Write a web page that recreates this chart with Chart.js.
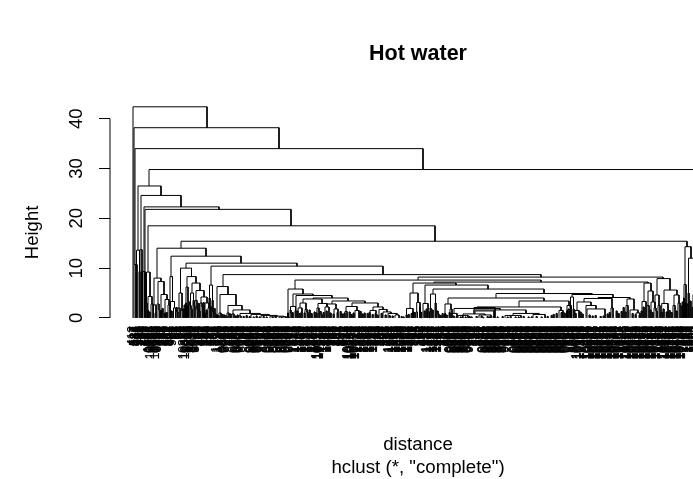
<!DOCTYPE html>
<html>
<head>
<meta charset="utf-8">
<title>Hot water</title>
<script src="https://cdn.jsdelivr.net/npm/chart.js@4"></script>
<style>
  html, body { margin: 0; background: #fff; overflow: hidden; }
  canvas { display: block; }
</style>
</head>
<body>
<canvas id="tree" width="726" height="479"></canvas>
<script>
const yTicks = [0, 10, 20, 30, 40];
const chartTitle = 'Hot water';
const yTitle = 'Height';
const xTitle = ['distance', 'hclust (*, "complete")'];

// merges: [left leaf position, right leaf position, height]
const spineMerges = [
  [0,74,42.4],[1,146,38.2],[2,290,34],[16,564,29.8],[5,28,26.5],[8,48,24.6],[11,86,22.3],[12,158,21.8],
  [15,302,18.5],[48,554,15.4],[24,73,14],[38,108,12.4],[53,164,11],[78,250,10.4],[90,408,8.7],
  [285,530,8.2],[162,408,7.6],[301,515,7.2],[280,323,7],[292,355,6.6],[300,411,5.8],[363,459,4.9],[315,411,4]
];
const leftCluster = [
  [1,3,10.7],[3.5,6.5,13.6],[3,4,10.7],[6,7,9.3],[7,9,13.7],[8.5,9.5,9.4],[10,12,9.3],[11.5,12.5,9.2],
  [13.5,17,9.2],[15,19,4.3],[14.5,15.5,1.5],[18,20,2.8],[13,14,3],[21,28,8],[20.5,23,2.6],[25,31,7.3],
  [24,26,2.8],[28,34,4.7],[27.5,28.5,1.5],[32,36,3.7],[31.5,32.5,1],[35,37,2.6],[37,39.5,8.3],[37.5,41.5,3.3],
  [40.5,42.5,2],[47.5,58.5,10],[46,49,5],[45,47,2],[48,50,1.5],[54,63,8.3],[53,55,6.2],[52.5,53.5,3],
  [54.5,55.5,2.5],[59,67,7],[57.5,60.5,5],[57,58,2.5],[60,61,3.5],[63,71,5.5],[62,64,3.5],[68,74,4.2],
  [67,69,3],[72,76,3],[71.5,72.5,1],[75,77,2],[76.5,79.5,6.6],[76,77,4],[79,80,3.5]
];
const flatLeft = [
  [84,95,6.3],[83.5,84.5,0.6],[87,103,4.7],[86,88,1],[95,109,2.5],[94,96,1],[100,117,1.6],[99,101,0.8],
  [107,127,0.9],[106,108,0.4],[118,136,0.7],[128,144,0.5],[137,151,0.35],[146,156,0.2]
];
const midCluster = [
  [155,170,5.8],[154.5,155.5,1],[160,180,4.8],[157.5,162.5,2.3],[157,158,1.6],[162,163,1.5],[163,199,4.5],
  [180,215,4],[170,189,3.8],[167,173,3],[185,194,2.9],[165,169,2],[172,174,1.7],[184,186,2],[192,196,2.2],
  [199,232,3.4],[194,203,2.8],[201,205,1.8],[219,245,3],[213,224,2.3],[212,214,1.3],[222,226,1.5],
  [240,250,2.2],[237,243,1.5],[246,254,1.7],[250,258,1.2],[255,264,0.9],[262,266,0.6],
  [277,285,5],[273.5,280,1.9],[283.7,287,3.1],[273,274,0.6],[279.5,280.5,1.2],[283,284.4,1.2],[286.5,287.5,2.2],
  [290,295,2.9],[297.5,302.5,4.8],[297,298,2],[302,303,3],[312,318,2.8],[311.5,312.5,0.9],[317,319,1.8]
];
const flatMiddle = [
  [386,436,3.4],[344,428,2.2],[434,438,2.5],[433.5,434.5,1.5],[437.5,438.5,1.4],[426,430,1.5],[321,367,1.9],
  [318,324,0.9],[341,393,1.6],[330,352,0.8],[380,406,0.9],[325,335,0.5],[346,358,0.6],[372,388,0.5],[400,412,0.7],
  [341,362,2.1],[342,361,1.4]
];
const rightCluster = [
  [439,480,4.7],[437.5,440.5,4.2],[437,438,2.5],[440,441,1.8],[465,497,4.1],[451,479,3.9],[444,458,3.2],
  [453,463,2.5],[454,472,1.8],[442,446,1.5],[478,480,2],[494,501,3.8],[493,495,2.5],[497,505,1.6],[503,507,1],
  [511,518,7],[509,513,3.3],[515,520,5.4],[514,516,2.5],[518,522,3.2],[524,537,7.9],[522,526,4.6],
  [531,544,5.6],[528.7,535,2.9],[541,546,4.6],[540,542,2.5],[545,547,3],[521,523,2],[525,527,2.5],
  [552,558,14.3],[551,553,6.7],[555.5,560.5,12],[555,556,5],[560,561,4.7],[550.5,551.5,4],[552.5,553.5,3]
];
const lowMerges = [
  [16,17,1.2],[22,23,1],[26,27,1.6],[29,30,1.9],[33,34,1.1],[38,39,1.4],[43,44,2.1],[44,45,1.2],[50,51,1.8],[51,52,2.6],
  [56,57,3.2],[58,59,1.8],[61,62,2.4],[64,65,1.7],[65,66,2.9],[66,67,1.4],[69,70,2.2],[70,71,3.1],[73,74,1.6],[77,78,2.3],
  [80,81,1.2],[81,82,1.9],[82,83,0.8],[85,86,0.5],[89,90,0.7],[91,92,0.6],[93,94,0.4],[97,98,0.8],[102,103,0.4],[104,105,0.6],
  [110,111,0.3],[113,114,0.5],[116,117,0.3],[120,121,0.2],[123,124,0.4],[126,127,0.2],[130,131,0.3],[133,134,0.2],[139,140,0.2],[142,143,0.3],
  [148,149,0.1],[152,153,0.2],[158,159,0.9],[159,160,1.1],[164,165,1.4],[166,167,0.9],[168,169,1.2],[171,172,1],[174,175,1.1],[176,177,1.6],
  [178,179,0.9],[181,182,1.2],[183,184,1],[187,188,1.3],[188,189,0.7],[190,191,1.1],[193,194,1.4],[197,198,1],[200,201,0.8],[204,205,1.1],
  [207,208,1.3],[209,210,0.8],[211,212,1],[216,217,1.2],[218,219,0.7],[220,221,1],[227,228,1.3],[229,230,0.8],[231,232,1],[234,235,0.9],
  [236,237,1.1],[239,240,0.7],[242,243,0.9],[244,245,0.6],[248,249,0.9],[252,253,0.6],[256,257,0.5],[259,260,0.4],[268,269,0.3],[270,271,0.2],
  [275,276,0.7],[278,279,0.9],[281,282,1.1],[288,289,1.2],[291,292,1.4],[293,294,1.8],[296,297,1.3],[299,300,1.6],[304,305,1.4],[305,306,0.8],
  [307,308,0.5],[309,310,0.9],[313,314,0.6],[316,317,1.1],[320,321,0.4],[323,324,0.3],[327,328,0.2],[329,330,0.3],[332,333,0.2],[336,337,0.3],
  [338,339,0.2],[343,344,0.3],[348,349,0.4],[350,351,0.2],[354,355,0.3],[356,357,0.2],[360,361,0.3],[364,365,0.2],[369,370,0.3],[374,375,0.2],
  [377,378,0.3],[382,383,0.2],[385,386,0.2],[390,391,0.3],[395,396,0.2],[398,399,0.2],[403,404,0.3],[408,409,0.2],[414,415,0.3],[418,419,0.5],
  [420,421,0.7],[423,424,0.9],[428,429,1.1],[431,432,1],[435,436,1.8],[442,443,0.9],[447,448,1.2],[449,450,0.8],[456,457,0.6],[459,460,0.4],
  [462,463,0.5],[467,468,0.3],[470,471,0.4],[474,475,0.8],[476,477,1.1],[483,484,1.4],[485,486,0.9],[488,489,1.3],[490,491,2.1],[492,493,1.2],
  [499,500,0.9],[502,503,0.7],[506,507,0.6],[508,509,1.4],[510,511,2.2],[512,513,1.9],[517,518,1.6],[519,520,1.1],[523,524,1.4],[528,529,1.2],
  [530,531,1.8],[533,534,1.2],[536,537,1.5],[538,539,1.1],[543,544,1.4],[548,549,2.4],[549,550,3.2],[554,555,2.8],[557,558,3.4],[559,560,2.1]
];

// leaf labels, left to right, one small list per stretch of the axis
const leavesA = ['412','587','233','641','118','905','376','264','731','429','850','193','567'];
const leavesB = ['1082','0936','10683','8095','0638','1096','10604','0982','6310'];
const leavesC = ['345','178','622','793','251','406','889','517','364','302','684','945'];
const leavesD = ['42','87','35','61','29','74','56','93','18'];
const leavesE = ['10382','10846','8063','9018','6208','1840','8096','9630','1028','6802','8046'];
const leavesF = ['714','238','965','402','681','157','329','873','546','290','735','618','142','487','956'];
const leavesG = ['263','1374','158','1926','340','1715',
  '0863','9038','0608','8096',
  '913','472','706','358','624','195',
  '0602','9806','0308','8036','9608','0093','8098',
  '749','236','581','403','628','917',
  '0063','9036','8096','0083','9038','0609','8803','9086','0306','9608',
  '271','534','892','146',
  '0038','8903','096','9360','0069','628','8809','0086','306','9093','0608','036','8803','0917','8096','038','0806','9063','096','0308','8602',
  '462','318','775'];
const leavesH = ['1873','1642','1905','1318','1746','1289','1537','1064','1812','1493','1726','1358','1671','1924','1285','1749','1516','1083','10672','10395'];
const leavesI = ['10718','10642','1375','1896','1438','1705','1268','1891','1534'];
const leavesJ = ['652','387','258','749','703','136','892','467','604','285','931','549','078','612','483'];
const leavesK = ['10382','10746','10518','10293','10867','10645','10378','10926','1041','1583','1274','1719','1063',
  '1492','1835','1028','1367','1874','1596','1463','1813','1729','1345'];
const leavesL = ['371','926','825','243','590','768','364','421','907','586','243','174'];
const leavesM = ['1692','1813','1567','1395','1038','1762','1485','1219','1856','1574','1320','1647','1796','1086','1962','1537','1248','1603'];
const leavesN = ['438','195','67','381','904','25','743','519','82','163',
  '396','648','275','931',
  '1584','1317','1769','1428','1156','1892','1527','1341','1638','1214',
  '907','463','758','816','329','175','602','483','947'];
const leavesO = ['0086','9038','0093','8608','0803','9096','0063','8308','0906','9603','0036','8098','0806','9063','0908','8360','0603','9096',
  '268','531','794','386','612','278','845','391','652','247',
  '0038','8306','0608','9803','0093','8086','0308','9603','0806','8093','0036','9603','0069','8098','0038','9906','0803','8360','0512','9276',
  '903','618','254','739','165','842'];
const leavesP = ['0096','0063','0038','0306','0608','0803','0093','0086','0308','0603','0806','0093','0036','0603','0069','0098','0038','0906','0803','0360',
  '0063','0908','0603','0096','0083','0038','0609','0803','0086','0306','0093','0608','0036','0803','0806','0063','0096','0038','0906','0083',
  '0360','0603','0098','0806','0063','0908',
  '412','576','839','203',
  '8096','9063','6038','10963','10682','10186','10308'];
const leavesQ = ['725','498','361',
  '10862','10493','10276','10859','10635','10482','10917','10738','10264','10895','10562','10537','10748','10326','10681','10974','10215',
  '10869','10543','10372','10698','10425','10837','10916','10584','10273','10649','10731','10468','10852','1397','1624','1783',
  '10546','10219','10968','10375','10842','10637','10491','10726','10358','10973','10215','10386','10684','10432','10857','10296','10743','10518','10629',
  '10384','10975','10263','10847','10516','10702','10148','10593','10326',
  '1548','1273','1906','1684',
  '10372','10859','10243','10617','10794','10538','10162','10927','10385','10746','10291','10873','10456','10618','10934','10275','10589',
  '1746','1382','1905','1627','1843','1269','1574','1938','1086','1452','1793'];
const leafLabels = [...leavesA, ...leavesB, ...leavesC, ...leavesD, ...leavesE, ...leavesF, ...leavesG, ...leavesH, ...leavesI,
  ...leavesJ, ...leavesK, ...leavesL, ...leavesM, ...leavesN, ...leavesO, ...leavesP, ...leavesQ];
const LEAF_SPACING = 1.19;

const allMerges = [...spineMerges, ...leftCluster, ...flatLeft, ...midCluster, ...flatMiddle, ...rightCluster, ...lowMerges];

// a leg drops onto the tallest lower merge centred under it, otherwise to the baseline
function legFloor(x, height) {
  let floor = 0;
  allMerges.forEach(([l, r, h]) => {
    if (h < height && h > floor && l <= x && x <= r && Math.abs((l + r) / 2 - x) <= 1.5) floor = h;
  });
  return floor;
}

const treePoints = [];
allMerges.forEach(([l, r, h]) => {
  treePoints.push({ x: l, y: legFloor(l, h) }, { x: l, y: h }, { x: r, y: h }, { x: r, y: legFloor(r, h) }, { x: null, y: null });
});

const X_MIN = -23;
const X_MAX = 593;

new Chart(document.getElementById('tree'), {
  type: 'scatter',
  data: {
    datasets: [
      { data: treePoints, showLine: true, borderColor: '#000', borderWidth: 1, pointRadius: 0, clip: false, spanGaps: false },
      { data: [{ x: X_MIN, y: yTicks[0] }, { x: X_MIN, y: yTicks[yTicks.length - 1] }], showLine: true, borderColor: '#000', borderWidth: 1, pointRadius: 0, clip: false }
    ]
  },
  options: {
    responsive: false,
    animation: false,
    devicePixelRatio: 1,
    layout: { padding: 0 },
    plugins: {
      legend: { display: false },
      tooltip: { enabled: false },
      title: {
        display: true,
        text: chartTitle,
        fullSize: false,
        color: '#000',
        font: { family: 'Liberation Sans', size: 21.5, weight: 'bold' },
        padding: { top: 41.5, bottom: 39.5 }
      }
    },
    scales: {
      x: {
        type: 'linear',
        min: X_MIN,
        max: X_MAX,
        border: { display: false },
        grid: { display: false },
        afterBuildTicks: (scale) => { scale.ticks = leafLabels.map((_, i) => ({ value: i * LEAF_SPACING })); },
        afterFit: (scale) => { scale.height = 121; scale.paddingLeft = 0; scale.paddingRight = 0; },
        ticks: {
          autoSkip: false,
          minRotation: 90,
          maxRotation: 90,
          mirror: true,   // mirror turns off the clip to the axis box, the labels start above it
          padding: 32,
          labelOffset: 14.4,
          color: '#000',
          textStrokeColor: '#000',
          textStrokeWidth: 0.2,
          font: { family: 'Liberation Sans', size: 12 },
          callback: (value, index) => leafLabels[index]
        },
        title: {
          display: true,
          text: xTitle,
          color: '#000',
          font: { family: 'Liberation Sans', size: 18.7 },
          padding: { top: 0, bottom: 0 }
        }
      },
      y: {
        min: -8.05,
        max: 42.4,
        border: { display: false },
        grid: { drawOnChartArea: false, drawTicks: true, tickLength: 11, tickColor: '#000', tickWidth: 1 },
        afterBuildTicks: (scale) => { scale.ticks = yTicks.map((v) => ({ value: v })); },
        afterFit: (scale) => { scale.width = 110; },
        ticks: {
          minRotation: 90,
          maxRotation: 90,
          crossAlign: 'center',
          padding: 12,
          color: '#000',
          font: { family: 'Liberation Sans', size: 18.5 }
        },
        title: {
          display: true,
          text: yTitle,
          color: '#000',
          font: { family: 'Liberation Sans', size: 18.5 },
          padding: { top: 22, bottom: 0 }
        }
      }
    }
  }
});
</script>
</body>
</html>
